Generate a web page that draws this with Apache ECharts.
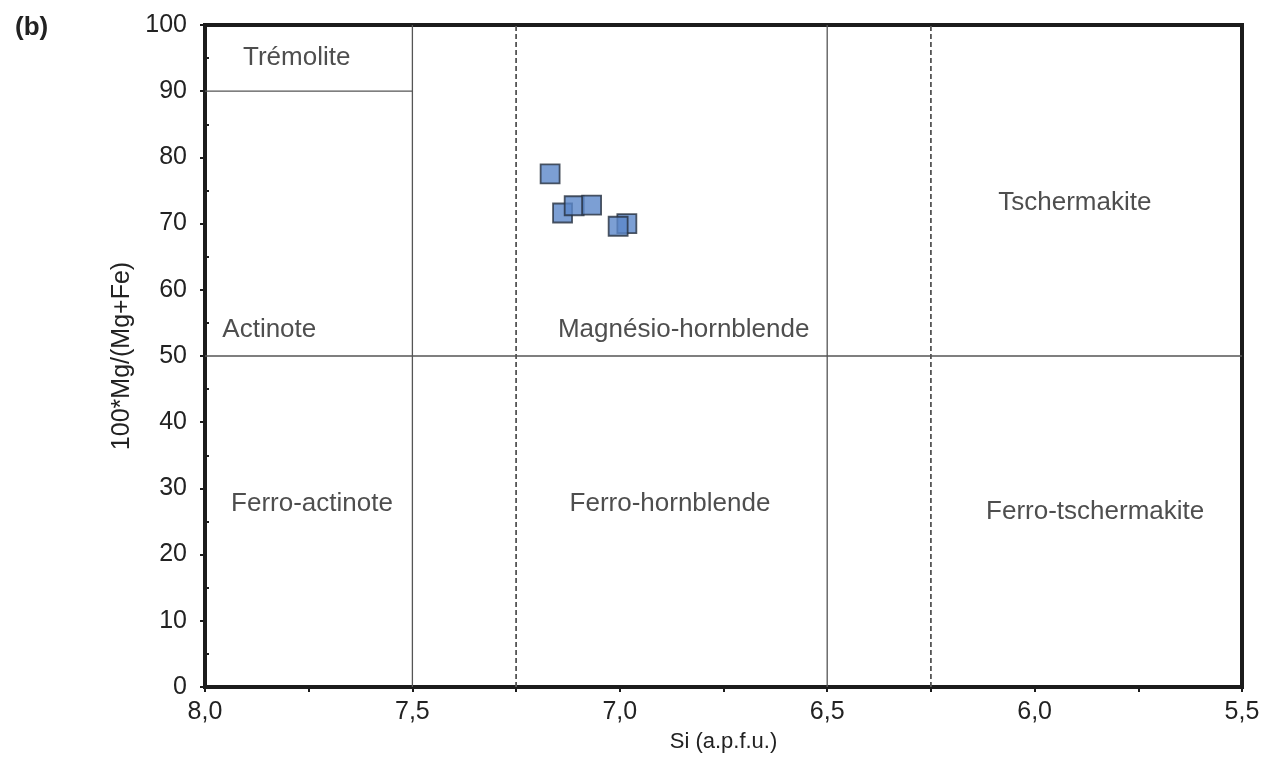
<!DOCTYPE html>
<html><head><meta charset="utf-8">
<script src="https://cdn.jsdelivr.net/npm/echarts@6/dist/echarts.min.js"></script>
<style>html,body{margin:0;padding:0;background:#fff}#c{width:1279px;height:761px}</style>
</head><body><div id="c"></div>
<script>
const siValues = [7.168, 7.138, 7.110, 7.068, 6.983, 7.004];
const mgValues = [77.5, 71.6, 72.7, 72.8, 70.0, 69.6];
const regionNames = ['Trémolite','Actinote','Magnésio-hornblende','Tschermakite','Ferro-actinote','Ferro-hornblende','Ferro-tschermakite'];
const regionSi = [7.779, 7.845, 6.846, 5.903, 7.742, 6.879, 5.854];
const regionMg = [95.1, 54.0, 54.0, 73.1, 27.7, 27.7, 26.4];
const solidLines = [[[7.5,0],[7.5,100]], [[6.5,0],[6.5,100]], [[8,50],[5.5,50]], [[8,90],[7.5,90]]];
const dashedLines = [[[7.25,0],[7.25,100]], [[6.25,0],[6.25,100]]];

const chart = echarts.init(document.getElementById('c'));
const font = '"Liberation Sans", Arial, sans-serif';
const series = [];
solidLines.forEach(seg => series.push({type:'line', data:seg, symbol:'none', silent:true,
  lineStyle:{color:'#555', width:1.3}, z:1}));
dashedLines.forEach(seg => series.push({type:'line', data:seg, symbol:'none', silent:true,
  lineStyle:{color:'#555', width:1.8, type:[5,3]}, z:1}));
series.push({type:'scatter', data: regionNames.map((n,i)=>({value:[regionSi[i], regionMg[i]], name:n})),
  symbolSize:0, silent:true,
  label:{show:true, position:'inside', formatter: p => p.name, color:'#222', fontSize:26, fontFamily:font}});
series.push({type:'scatter', data: siValues.map((s,i)=>[s, mgValues[i]]), symbol:'rect', symbolSize:19,
  itemStyle:{color:'#5b87c9', borderColor:'#26303f', borderWidth:1.8}, z:5});

chart.setOption({
  animation:false,
  backgroundColor:'#fff',
  title:{text:'(b)', left:10, top:10, textStyle:{fontSize:26, fontWeight:'bold', color:'#222', fontFamily:font}},
  grid:{left:205, right:37, top:25, bottom:74, show:true, borderWidth:4, borderColor:'#1c1c1c', backgroundColor:'transparent'},
  xAxis:{type:'value', min:5.5, max:8, interval:0.5, inverse:true,
    name:'Si (a.p.f.u.)', nameLocation:'middle', nameGap:44,
    nameTextStyle:{fontSize:22, color:'#222', fontFamily:font},
    axisLine:{lineStyle:{color:'#1c1c1c', width:4}},
    axisTick:{show:true, length:5, lineStyle:{color:'#1c1c1c', width:2}},
    minorTick:{show:true, splitNumber:2, length:5, lineStyle:{color:'#1c1c1c', width:2}},
    splitLine:{show:false},
    axisLabel:{fontSize:25, color:'#222', margin:13, fontFamily:font, formatter:v=>v.toFixed(1).replace('.',',')}},
  yAxis:{type:'value', min:0, max:100, interval:10,
    name:'100*Mg/(Mg+Fe)', nameLocation:'middle', nameGap:70, nameRotate:90,
    nameTextStyle:{fontSize:25, color:'#222', fontFamily:font},
    axisLine:{lineStyle:{color:'#1c1c1c', width:4}},
    axisTick:{show:true, length:5, lineStyle:{color:'#1c1c1c', width:2}},
    minorTick:{show:true, splitNumber:2, length:-4, lineStyle:{color:'#1c1c1c', width:2}},
    splitLine:{show:false},
    axisLabel:{fontSize:25, color:'#222', margin:18, fontFamily:font}},
  series: series
});
</script></body></html>
